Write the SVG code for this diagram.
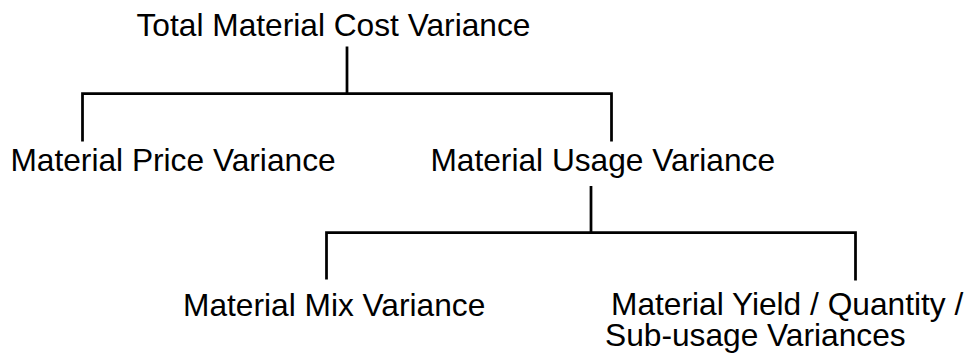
<svg xmlns="http://www.w3.org/2000/svg" width="974" height="358" viewBox="0 0 974 358">
  <style>
    .lbl { font-family: "Liberation Sans", Arial, sans-serif; font-size: 31.7px; fill: #000; }
    .link { fill: none; stroke: #000; stroke-width: 2.75; stroke-linejoin: miter; stroke-linecap: butt; }
  </style>
  <rect width="974" height="358" fill="#fff"/>

  <!-- tree connectors -->
  <g id="connectors">
    <path class="link" d="M347 46.5 V93.5"/>
    <path class="link" d="M82.5 141.5 V93.5 H611.5 V141.5"/>
    <path class="link" d="M591 186 V232.5"/>
    <path class="link" d="M326.5 279.5 V232.5 H855.5 V280.5"/>
  </g>

  <g id="total-cost">
    <text class="lbl" x="136.5" y="35.5">Total Material Cost Variance</text>
  </g>
  <g id="price">
    <text class="lbl" x="10.4" y="170.5">Material Price Variance</text>
  </g>
  <g id="usage">
    <text class="lbl" x="430.4" y="170.5">Material Usage Variance</text>
  </g>
  <g id="mix">
    <text class="lbl" x="183" y="316">Material Mix Variance</text>
  </g>
  <g id="yield">
    <text class="lbl" x="611" y="315">Material Yield / Quantity /</text>
    <text class="lbl" x="605" y="345.5">Sub-usage Variances</text>
  </g>
</svg>
